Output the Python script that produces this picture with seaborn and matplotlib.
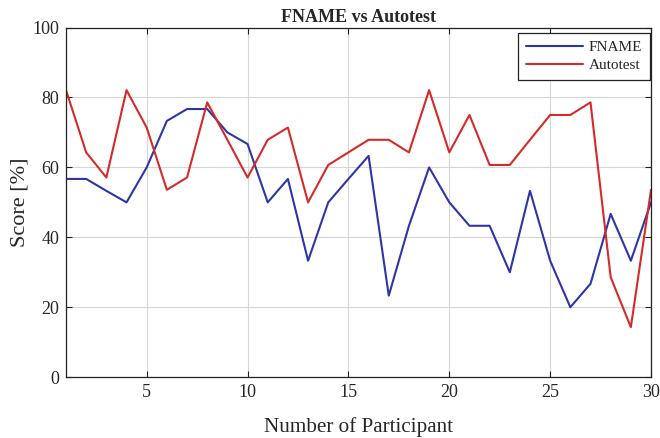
import matplotlib
matplotlib.use("Agg")
import matplotlib.pyplot as plt
import seaborn as sns
import pandas as pd

participants = list(range(1, 31))
fname_scores = [56.7, 56.7, 53.3, 50.0, 60.0, 73.3, 76.7, 76.7, 70.0, 66.7,
                50.0, 56.7, 33.3, 50.0, 56.7, 63.3, 23.3, 43.3, 60.0, 50.0,
                43.3, 43.3, 30.0, 53.3, 33.3, 20.0, 26.7, 46.7, 33.3, 50.0]
autotest_scores = [82.1, 64.3, 57.1, 82.1, 71.4, 53.6, 57.1, 78.6, 67.9, 57.1,
                   67.9, 71.4, 50.0, 60.7, 64.3, 67.9, 67.9, 64.3, 82.1, 64.3,
                   75.0, 60.7, 60.7, 67.9, 75.0, 75.0, 78.6, 28.6, 14.3, 53.6]
series_names = ["FNAME", "Autotest"]
x_ticks = [5, 10, 15, 20, 25, 30]
y_ticks = [0, 20, 40, 60, 80, 100]

df = pd.DataFrame({
    "Participant": participants * 2,
    "Score": fname_scores + autotest_scores,
    "Method": [series_names[0]] * len(participants) + [series_names[1]] * len(participants),
})

sns.set_theme(style="whitegrid")
plt.rcParams["font.family"] = ["Liberation Serif", "DejaVu Serif"]
plt.rcParams["xtick.direction"] = "in"
plt.rcParams["ytick.direction"] = "in"

fig = plt.figure(figsize=(6.6, 4.38), dpi=100)
ax = fig.add_axes([0.1, 0.139, 0.8864, 0.798])

sns.lineplot(data=df, x="Participant", y="Score", hue="Method",
             palette={"FNAME": "#2f35a6", "Autotest": "#d42a2a"},
             linewidth=1.5, ax=ax)

ax.set_xlim(1, 30)
ax.set_ylim(0, 100)
ax.set_xticks(x_ticks)
ax.set_yticks(y_ticks)
ax.tick_params(axis="both", labelsize=13, length=4, width=0.8, color="#222222",
               bottom=True, left=True, top=True, right=True, pad=5)
ax.grid(True, color="#d6d6d6", linewidth=0.8)
for s in ax.spines.values():
    s.set_color("#222222")
    s.set_linewidth(0.9)

ax.set_xlabel("Number of Participant", fontsize=15.2, labelpad=11.5)
ax.set_ylabel("Score [%]", fontsize=16, labelpad=2)
ax.set_title("FNAME vs Autotest", fontsize=13, fontweight="bold", pad=4)

leg = ax.legend(loc="upper right", bbox_to_anchor=(0.998, 0.985), fontsize=11,
                frameon=True, fancybox=False, borderaxespad=0.0,
                handlelength=3.7, labelspacing=0.3, borderpad=0.5,
                handletextpad=0.4)
leg.get_frame().set_edgecolor("#222222")
leg.get_frame().set_linewidth(0.9)
leg.get_frame().set_alpha(1)

fig.savefig("out.png", dpi=100)
